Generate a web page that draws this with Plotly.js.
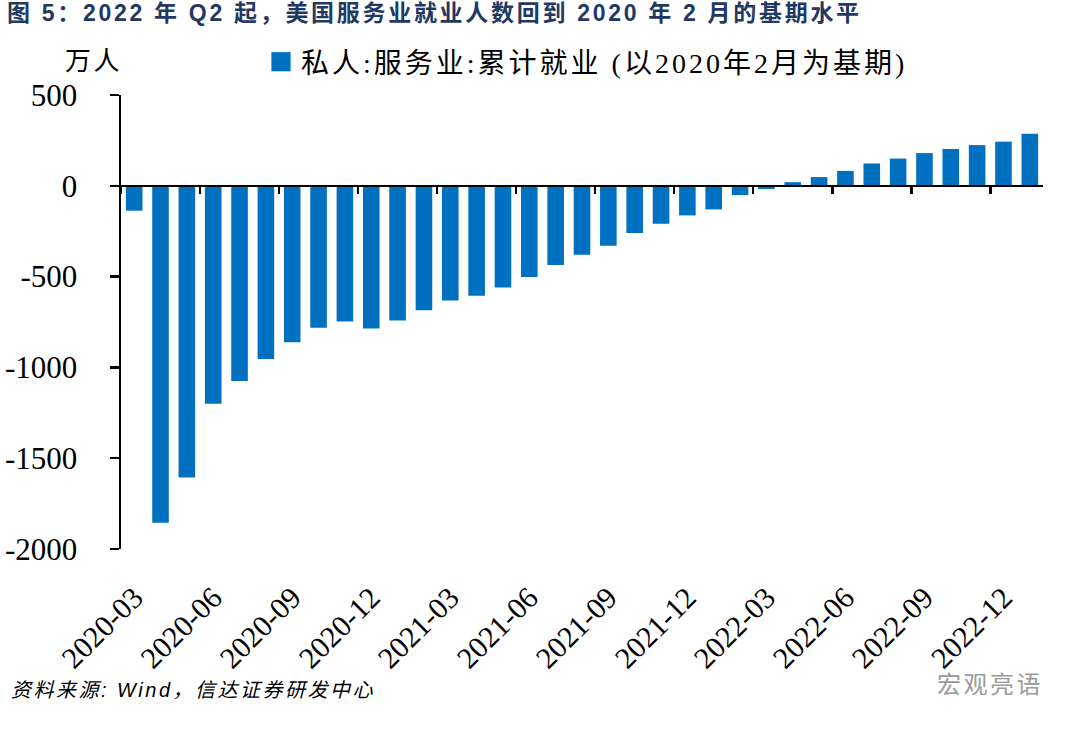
<!DOCTYPE html>
<html>
<head>
<meta charset="utf-8">
<script src="https://cdn.plot.ly/plotly-3.0.1.min.js"></script>
<style>
html,body{margin:0;padding:0;background:#fff;}
#chart{width:1080px;height:729px;}
.gtitle{letter-spacing:2.7px;}
.legendtext{letter-spacing:3px;}
.annotation-text{letter-spacing:2.5px;}
</style>
</head>
<body>
<div id="chart"></div>
<script>
const months = ["2020-03","2020-04","2020-05","2020-06","2020-07","2020-08","2020-09","2020-10","2020-11","2020-12",
  "2021-01","2021-02","2021-03","2021-04","2021-05","2021-06","2021-07","2021-08","2021-09","2021-10","2021-11","2021-12",
  "2022-01","2022-02","2022-03","2022-04","2022-05","2022-06","2022-07","2022-08","2022-09","2022-10","2022-11","2022-12",
  "2023-01"];
const cumJobs = [-137,-1855,-1606,-1200,-1075,-954,-861,-782,-747,-786,
  -742,-685,-632,-606,-560,-502,-436,-379,-330,-260,-209,-163,
  -130,-51,-18,20,48,82,123,150,180,203,224,243,
  287];
const seriesName = "私人:服务业:累计就业 (以2020年2月为基期)";
const yTicks = [500, 0, -500, -1000, -1500, -2000];
const yTickText = ["500", "0", "-500", "-1000", "-1500", "-2000"];

const serif = "Liberation Serif, Times New Roman, Noto Sans CJK SC, serif";
const cjkSerif = "Liberation Serif, Noto Sans CJK SC, serif";

const traces = [
  {
    type: "bar", x: months, y: cumJobs, name: seriesName,
    marker: {color: "#0070C0"}, xaxis: "x", yaxis: "y"
  },
  {
    type: "scatter", mode: "none", x: months, y: cumJobs, xaxis: "x2", yaxis: "y",
    showlegend: false, hoverinfo: "skip"
  }
];

const layout = {
  width: 1080, height: 729,
  margin: {l: 121, r: 37, t: 95, b: 180},
  paper_bgcolor: "#fff", plot_bgcolor: "#fff",
  bargap: 0.37,
  title: {
    text: "图 5：2022 年 Q2 起，美国服务业就业人数回到 2020 年 2 月的基期水平",
    font: {family: "Liberation Sans, Arial, Noto Sans CJK SC, sans-serif", size: 23, color: "#1F3864", weight: "bold"},
    x: 7/1080, xanchor: "left", xref: "container", y: 1 - 5/729, yref: "container", yanchor: "top"
  },
  xaxis: {
    type: "category", range: [-0.5, 34.5],
    tickmode: "linear", tick0: 0, dtick: 3,
    showline: false, ticks: "", showgrid: false, zeroline: false,
    tickangle: -45, ticklabelstandoff: 24,
    tickfont: {family: serif, size: 30, color: "#000"}
  },
  xaxis2: {
    type: "category", overlaying: "x", anchor: "free", position: 0.8,
    range: [-0.5, 34.5], tickmode: "linear", tick0: 0, dtick: 3,
    tickson: "boundaries", ticks: "outside", ticklen: 7, tickwidth: 2.5, tickcolor: "#000",
    showline: true, linecolor: "#000", linewidth: 2.5,
    showticklabels: false, showgrid: false, zeroline: false
  },
  yaxis: {
    range: [-2000, 500], tickmode: "array", tickvals: yTicks, ticktext: yTickText,
    showline: true, linecolor: "#000", linewidth: 2.5,
    ticks: "outside", ticklen: 9, tickwidth: 2.5, tickcolor: "#000",
    showgrid: false, zeroline: false, ticklabelstandoff: 26,
    tickfont: {family: serif, size: 31, color: "#000"}
  },
  showlegend: true,
  legend: {
    x: 261/1080, xref: "container", y: 1 - 62/729, yref: "container", xanchor: "left", yanchor: "middle",
    orientation: "h", font: {family: cjkSerif, size: 28, color: "#000"},
    bgcolor: "rgba(0,0,0,0)", itemwidth: 30
  },
  annotations: [
    {text: "万人", xref: "paper", yref: "paper", x: -0.030, y: 1.073, xanchor: "center", yanchor: "middle",
     showarrow: false, font: {family: cjkSerif, size: 26, color: "#000"}},
    {text: "<i>资料来源: Wind，信达证券研发中心</i>", xref: "paper", yref: "paper", x: -0.122, y: -0.31,
     xanchor: "left", yanchor: "middle", showarrow: false,
     font: {family: "Liberation Sans, Arial, Noto Sans CJK SC, sans-serif", size: 20, color: "#000"}},
    {text: "宏观亮语", xref: "paper", yref: "paper", x: 1.002, y: -0.295, xanchor: "right", yanchor: "middle",
     showarrow: false, font: {family: "Noto Sans CJK SC, sans-serif", size: 24, color: "#9a9a9a"}}
  ]
};

function enlargeLegendSymbols(gd) {
  gd.querySelectorAll(".legendpoints path").forEach(function (p) {
    const t = p.getAttribute("transform") || "";
    if (t.indexOf("scale") < 0) p.setAttribute("transform", t + " scale(1.6)");
  });
}

const gd = document.getElementById("chart");
Plotly.newPlot(gd, traces, layout, {displayModeBar: false, staticPlot: true}).then(function () {
  enlargeLegendSymbols(gd);
  gd.on("plotly_afterplot", function () { enlargeLegendSymbols(gd); });
});
</script>
</body>
</html>
